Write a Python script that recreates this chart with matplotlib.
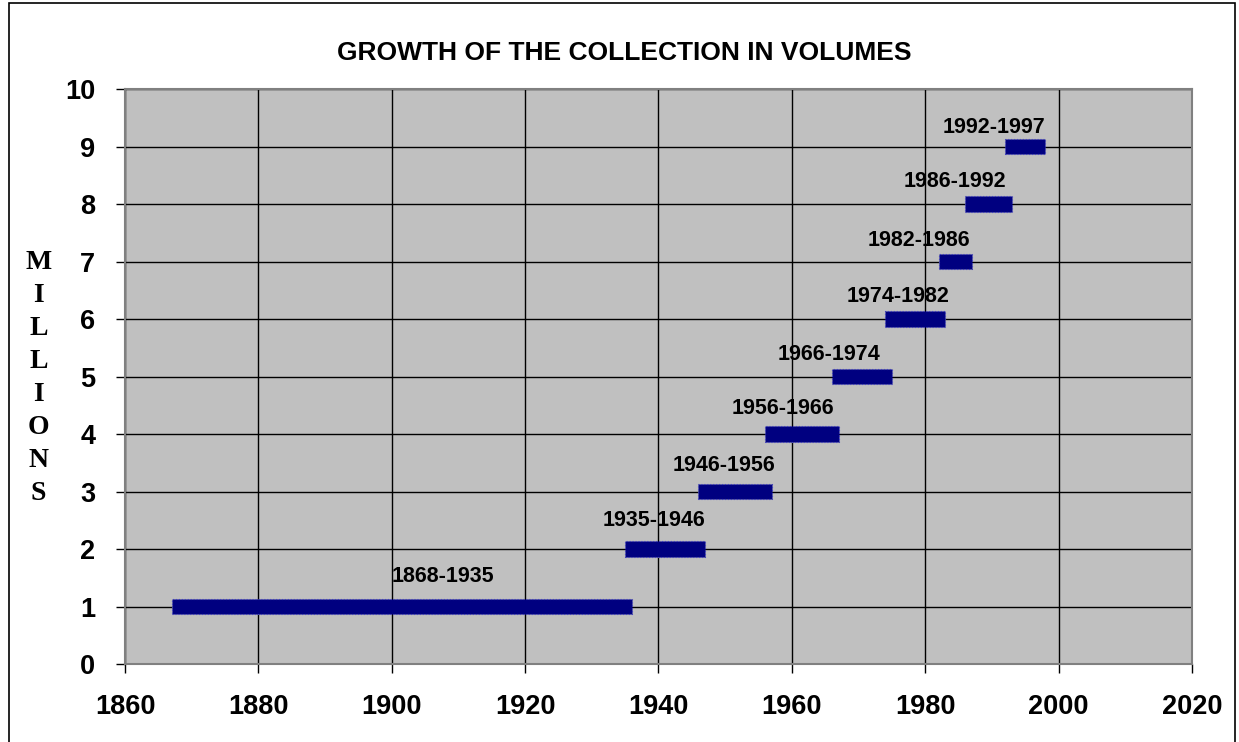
import matplotlib.pyplot as plt
from matplotlib.patches import Rectangle

# periods and collection size reached (millions of volumes)
periods = ["1868-1935", "1935-1946", "1946-1956", "1956-1966", "1966-1974",
           "1974-1982", "1982-1986", "1986-1992", "1992-1997"]
millions = [1, 2, 3, 4, 5, 6, 7, 8, 9]
# drawn extent of each bar
bar_start = [1867, 1935, 1946, 1956, 1966, 1974, 1982, 1986, 1992]
bar_end = [1936, 1947, 1957, 1967, 1975, 1983, 1987, 1993, 1998]
# where each label sits (year at label centre)
label_year = [1907.7, 1939.3, 1949.8, 1958.6, 1965.5, 1976, 1979, 1984.4, 1990.3]
label_rise = [0.52, 0.49, 0.45, 0.45, 0.38, 0.4, 0.37, 0.4, 0.33]

fig = plt.figure(figsize=(12.39, 7.42), dpi=100)
ax = fig.add_axes([0.1009, 0.105, 0.8611, 0.775])
ax.set_facecolor("#C0C0C0")

widths = [e - s for s, e in zip(bar_start, bar_end)]
ax.barh(millions, widths, left=bar_start, height=0.27, color="#000080",
        edgecolor="#4040c0", linestyle=":", linewidth=0.8, zorder=3)

for lab, x, y, r in zip(periods, label_year, millions, label_rise):
    ax.text(x, y + r, lab, ha="center", va="center", fontsize=15.5,
            fontweight="bold", family="Liberation Sans", zorder=4)

ax.set_xlim(1860, 2020)
ax.set_ylim(0, 10)
ax.set_xticks(range(1860, 2021, 20))
ax.set_yticks(range(0, 11))
ax.grid(True, color="black", linewidth=1.0, zorder=1)
ax.set_axisbelow(True)
for s in ax.spines.values():
    s.set_color("#808080")
    s.set_linewidth(1.5)
ax.tick_params(axis="both", direction="out", length=6.5, width=1, color="black",
               labelsize=19.5)
ax.tick_params(axis="x", pad=15)
ax.tick_params(axis="y", pad=15)
for t in ax.get_xticklabels() + ax.get_yticklabels():
    t.set_fontweight("bold")
    t.set_family("Liberation Sans")

fig.text(0.504, 0.929, "GROWTH OF THE COLLECTION IN VOLUMES", ha="center",
         va="center", fontsize=19, fontweight="bold", family="Liberation Sans")

fig.text(0.031, 0.491, "\n".join("MILLIONS"), ha="center", va="center",
         fontsize=20, fontweight="bold", family="Liberation Serif",
         linespacing=1.42)

fig.patches.append(Rectangle((0.007, -0.01), 0.99, 1.006, transform=fig.transFigure,
                             fill=False, edgecolor="black", linewidth=1.2))

fig.savefig("out.png", dpi=100)
